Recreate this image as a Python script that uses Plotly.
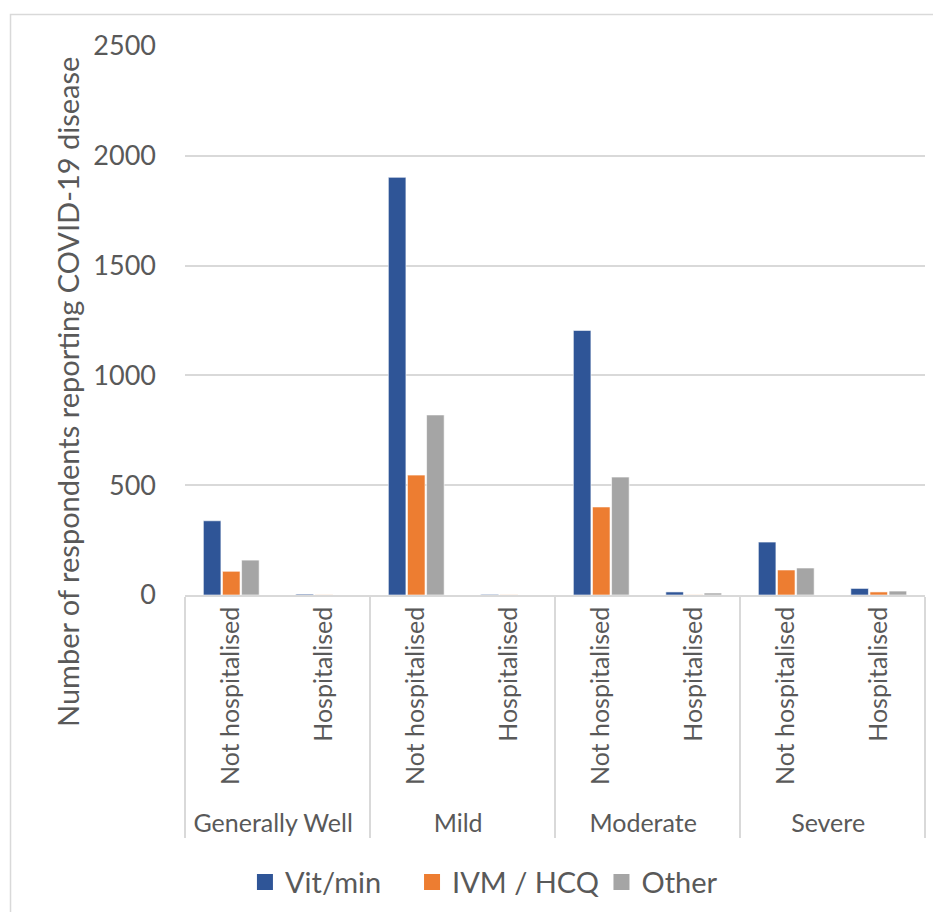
import plotly.graph_objects as go

severity = ["Generally Well", "Generally Well", "Mild", "Mild", "Moderate", "Moderate", "Severe", "Severe"]
hosp = ["Not hospitalised", "Hospitalised"] * 4
vit_min = [338, 4, 1902, 3, 1205, 14, 241, 30]
ivm_hcq = [108, 1, 546, 1, 401, 1, 114, 14]
other = [159, 0, 820, 0, 537, 9, 123, 18]
y_title = "Number of respondents reporting COVID-19 disease"

series = [("Vit/min", vit_min, "#2F5597"), ("IVM / HCQ", ivm_hcq, "#ED7D31"), ("Other", other, "#A5A5A5")]
legend_ids = ["legend", "legend2", "legend3"]
legend_x = [0.081, 0.3068, 0.5628]

fig = go.Figure()
for name, vals, col in series:
    fig.add_trace(go.Bar(x=[severity, hosp], y=vals, name=name, showlegend=False, legendgroup=name,
                         marker=dict(color=col, line=dict(color="rgba(255,255,255,0.6)", width=1))))
for (name, vals, col), lid in zip(series, legend_ids):
    fig.add_trace(go.Scatter(x=[[None], [None]], y=[None], name=name, mode="markers", legendgroup=name,
                             legend=lid, marker=dict(symbol="square", size=16, color=col), hoverinfo="skip"))

font = "Lato, 'Open Sans', sans-serif"
fig.update_layout(
    width=925, height=904,
    margin=dict(l=177, r=8, t=38, b=317, autoexpand=False),
    plot_bgcolor="white", paper_bgcolor="white",
    barmode="group", bargap=0.38, bargroupgap=0.08,
    font=dict(family=font, color="#595959"),
    showlegend=True,
)
for lid, lx in zip(legend_ids, legend_x):
    fig.update_layout({lid: dict(orientation="h", x=lx, xanchor="left", y=-0.523, yanchor="middle",
                                 font=dict(size=29, color="#595959"), itemsizing="trace",
                                 bgcolor="rgba(0,0,0,0)")})
fig.update_yaxes(range=[0, 2500], dtick=500, gridcolor="#d9d9d9", gridwidth=1.5, zeroline=False,
                 tickfont=dict(size=27, color="#595959"), ticks="", ticklabelstandoff=28, automargin=False)
fig.update_xaxes(type="multicategory", tickangle=-90, tickfont=dict(size=25, color="#595959"),
                 showline=True, linecolor="#d9d9d9", linewidth=1.5, showdividers=True,
                 dividercolor="#d9d9d9", dividerwidth=1.5, ticks="", automargin=False)
fig.add_annotation(text=y_title, textangle=-90, xref="paper", yref="paper", x=-0.158, y=0.37,
                   showarrow=False, font=dict(size=29, color="#595959"), xanchor="center", yanchor="middle")
fig.add_shape(type="rect", xref="paper", yref="paper", x0=-0.2358, x1=1.2, y0=-0.8, y1=1.0574,
              line=dict(color="#d9d9d9", width=1.5), layer="below")
fig.write_html("out.html")
